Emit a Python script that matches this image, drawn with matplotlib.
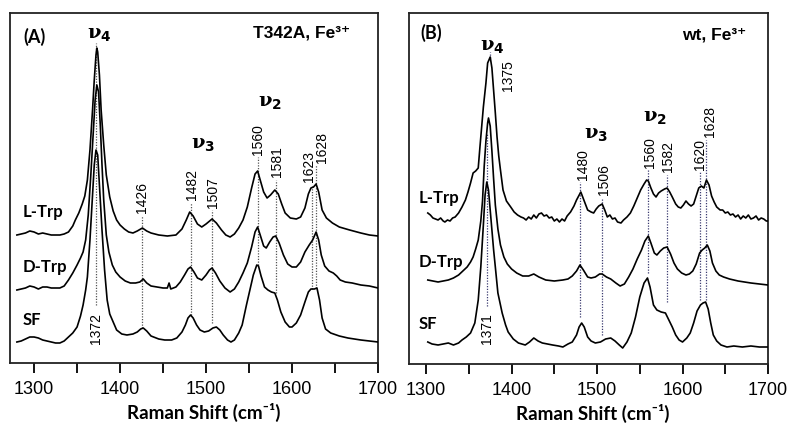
import matplotlib.pyplot as plt
import numpy as np

plt.rcParams['font.family'] = ['Liberation Sans', 'DejaVu Sans']

# ---- panel A : T342A, Fe3+ (intensity above each trace's own baseline) ----
wn_a_ltrp = [1280, 1285, 1290, 1295, 1300, 1305, 1310, 1315, 1320, 1325, 1330, 1335, 1340, 1345, 1348,
             1352, 1356, 1359, 1362, 1365, 1368, 1370, 1372, 1373, 1374, 1376, 1378, 1381, 1384, 1388,
             1392, 1396, 1400, 1405, 1410, 1415, 1420, 1426, 1431, 1436, 1445, 1455, 1465, 1472, 1477,
             1481, 1485, 1490, 1495, 1500, 1507, 1512, 1518, 1523, 1528, 1533, 1538, 1543, 1548, 1553,
             1557, 1560, 1563, 1567, 1571, 1575, 1580, 1584, 1588, 1592, 1598, 1605, 1610, 1615, 1619,
             1622, 1625, 1628, 1631, 1635, 1640, 1647, 1655, 1667, 1680, 1690, 1700]
int_a_ltrp = [0, 1, 2, 4, 3, 1, 2, 1, 0, 0, 0, 1, 3, 9, 15,
              22, 31, 39, 55, 85, 125, 155, 180, 187, 183, 160, 125, 90, 60, 38,
              24, 15, 10, 6, 3, 2, 4, 7, 4, 2, 0, -1, 0, 6, 15,
              23, 19, 11, 8, 11, 16, 12, 5, 0, -2, 1, 7, 15, 28, 47,
              61, 64, 55, 43, 37, 40, 45, 41, 31, 22, 17, 16, 18, 27, 41,
              47, 48, 51, 43, 25, 17, 12, 8, 5, 2, 0, -1]

wn_a_dtrp = [1280, 1285, 1290, 1295, 1300, 1305, 1310, 1315, 1320, 1325, 1330, 1335, 1340, 1345, 1350,
             1354, 1357, 1360, 1363, 1366, 1369, 1371, 1373, 1375, 1377, 1379, 1381, 1384, 1387, 1391,
             1395, 1400, 1406, 1412, 1418, 1423, 1427, 1431, 1436, 1443, 1450, 1455, 1457, 1459, 1465,
             1470, 1475, 1479, 1482, 1486, 1490, 1495, 1500, 1504, 1507, 1511, 1516, 1522, 1528, 1533,
             1538, 1543, 1548, 1553, 1557, 1560, 1563, 1567, 1570, 1574, 1578, 1581, 1585, 1590, 1595,
             1600, 1605, 1610, 1615, 1620, 1624, 1628, 1631, 1634, 1638, 1643, 1648, 1652, 1656, 1662,
             1670, 1680, 1690, 1700]
int_a_dtrp = [-2, -1, 0, 2, 1, -1, 1, 1, 0, 0, 0, 2, 8, 15, 23,
              30, 36, 48, 73, 113, 158, 188, 203, 196, 163, 123, 88, 53, 36, 23,
              16, 11, 7, 5, 5, 6, 9, 5, 2, 1, 0, 0, 5, -1, 1,
              6, 13, 19, 21, 16, 10, 8, 13, 18, 20, 15, 7, 0, -4, -1,
              6, 15, 25, 41, 56, 61, 53, 42, 40, 46, 51, 52, 45, 33, 24,
              21, 21, 26, 36, 43, 48, 56, 48, 33, 22, 17, 15, 12, 8, 6,
              5, 3, 2, 0]

wn_a_sf = [1280, 1285, 1290, 1295, 1300, 1305, 1310, 1315, 1320, 1325, 1330, 1335, 1340, 1345, 1350,
           1354, 1357, 1360, 1362, 1365, 1368, 1370, 1372, 1374, 1376, 1379, 1382, 1385, 1388, 1392,
           1396, 1402, 1408, 1415, 1420, 1424, 1427, 1431, 1436, 1445, 1452, 1460, 1466, 1472, 1476,
           1479, 1482, 1485, 1489, 1493, 1498, 1503, 1508, 1512, 1516, 1520, 1525, 1529, 1533, 1538,
           1542, 1547, 1551, 1555, 1559, 1561, 1564, 1568, 1572, 1576, 1580, 1583, 1587, 1592, 1597,
           1600, 1605, 1610, 1615, 1619, 1622, 1626, 1629, 1632, 1635, 1639, 1645, 1655, 1665, 1680,
           1690, 1700]
int_a_sf = [-1, 0, 2, 4, 4, 3, 1, 0, -1, -2, -2, 0, 4, 8, 14,
            25, 36, 51, 64, 101, 146, 176, 191, 186, 156, 111, 71, 41, 27, 19,
            11, 7, 6, 7, 9, 12, 13, 10, 5, 2, 1, 1, 3, 9, 16,
            23, 26, 23, 16, 11, 9, 10, 13, 14, 11, 6, 1, -1, 1, 8,
            16, 36, 51, 66, 76, 75, 65, 54, 51, 49, 48, 41, 29, 19, 14,
            14, 18, 26, 39, 49, 52, 52, 53, 41, 23, 12, 8, 5, 3, 1,
            0, -1]

# ---- panel B : wt, Fe3+ ----
wn_b_ltrp = [1302, 1305, 1308, 1311, 1314, 1317, 1320, 1322, 1325, 1328, 1331, 1334, 1338, 1342, 1346,
             1349, 1352, 1355, 1358, 1361, 1363, 1367, 1370, 1372, 1375, 1377, 1379, 1381, 1383, 1385,
             1387, 1390, 1394, 1399, 1403, 1407, 1411, 1414, 1417, 1420, 1423, 1426, 1429, 1432, 1435,
             1438, 1441, 1444, 1447, 1450, 1453, 1456, 1459, 1462, 1465, 1469, 1473, 1476, 1481, 1485,
             1489, 1493, 1496, 1499, 1502, 1506, 1509, 1512, 1515, 1518, 1521, 1524, 1528, 1531, 1535,
             1539, 1543, 1547, 1551, 1555, 1558, 1560, 1563, 1566, 1569, 1572, 1575, 1579, 1582, 1585,
             1588, 1592, 1595, 1598, 1601, 1604, 1607, 1610, 1613, 1616, 1619, 1622, 1625, 1628, 1631,
             1634, 1637, 1640, 1644, 1647, 1650, 1653, 1656, 1659, 1662, 1665, 1668, 1671, 1674, 1677,
             1680, 1683, 1686, 1689, 1692, 1695, 1698, 1700]
int_b_ltrp = [5, 3, 0, -1, -2, 0, -3, -4, -2, -3, 0, 1, 5, 11, 18,
              26, 35, 45, 47, 50, 71, 111, 135, 155, 161, 150, 128, 105, 81, 62,
              48, 28, 17, 11, 6, 3, 1, 0, -2, 1, -1, 3, 0, 4, 5,
              2, 3, 0, 1, -3, -1, -4, -1, -3, 2, 6, 12, 18, 26, 17,
              8, 6, 5, 9, 12, 14, 8, 1, 3, -1, 0, -4, -5, -2, 1,
              5, 12, 20, 28, 34, 38, 37, 30, 24, 21, 25, 27, 29, 30, 26,
              21, 14, 11, 10, 13, 17, 14, 12, 14, 22, 30, 32, 30, 38, 33,
              22, 16, 11, 8, 8, 5, 6, 3, 4, 1, 3, -1, 2, 0, 3,
              -1, 0, 2, -2, 0, -1, -3, -3]

wn_b_dtrp = [1302, 1308, 1314, 1320, 1326, 1332, 1338, 1343, 1348, 1352, 1355, 1358, 1361, 1364, 1366,
             1368, 1370, 1372, 1373, 1375, 1377, 1379, 1381, 1384, 1387, 1391, 1395, 1400, 1406, 1413,
             1420, 1426, 1432, 1440, 1450, 1460, 1466, 1471, 1476, 1480, 1484, 1489, 1493, 1498, 1503,
             1506, 1511, 1516, 1522, 1527, 1532, 1537, 1542, 1547, 1552, 1556, 1560, 1563, 1567, 1570,
             1574, 1578, 1582, 1586, 1590, 1594, 1599, 1604, 1608, 1612, 1616, 1620, 1623, 1626, 1629,
             1632, 1635, 1639, 1643, 1648, 1655, 1665, 1680, 1690, 1700]
int_b_dtrp = [1, 0, -1, 0, 1, 3, 6, 10, 14, 19, 24, 32, 41, 60, 80,
              115, 140, 158, 163, 155, 130, 102, 76, 52, 36, 24, 17, 12, 8, 5,
              5, 7, 4, 1, 0, 1, 2, 5, 10, 16, 11, 4, 3, 4, 7,
              7, 4, 2, -2, -5, -3, 4, 12, 22, 31, 40, 45, 38, 28, 26,
              30, 33, 34, 27, 18, 12, 8, 6, 7, 10, 17, 28, 31, 33, 36,
              30, 18, 10, 6, 4, 2, 0, -2, -3, -4]

wn_b_sf = [1302, 1307, 1314, 1320, 1326, 1332, 1338, 1342, 1347, 1352, 1357, 1361, 1364, 1367, 1369,
           1371, 1373, 1376, 1379, 1381, 1384, 1389, 1393, 1396, 1402, 1408, 1416, 1421, 1426, 1431,
           1436, 1442, 1448, 1455, 1460, 1466, 1471, 1476, 1479, 1482, 1485, 1489, 1493, 1498, 1504,
           1510, 1516, 1521, 1526, 1530, 1535, 1540, 1545, 1550, 1555, 1559, 1562, 1566, 1570, 1575,
           1580, 1584, 1588, 1592, 1596, 1600, 1605, 1609, 1613, 1617, 1621, 1624, 1627, 1630, 1633,
           1636, 1640, 1645, 1652, 1660, 1670, 1680, 1690, 1700]
int_b_sf = [3, 1, 0, 1, 2, 0, 2, 5, 8, 12, 22, 45, 78, 120, 150,
            163, 155, 125, 95, 78, 52, 32, 20, 13, 6, 2, 0, 3, 7, 4,
            2, 1, 0, -1, -2, 1, 3, 10, 18, 22, 18, 8, 4, 2, 3,
            6, 7, 4, 0, -3, 3, 12, 28, 48, 62, 67, 58, 40, 35, 33,
            32, 25, 18, 10, 5, 3, 7, 12, 22, 34, 40, 42, 43, 36, 22,
            10, 4, 0, -2, -1, -2, -1, -2, -2]

samples = ['L-Trp', 'D-Trp', 'SF']
offsets_a = [128, 75, 22]
offsets_b = [146, 83, 19]

peaks_a = [1372, 1426, 1482, 1507, 1560, 1581, 1623, 1628]
peaks_b = [1375, 1371, 1480, 1506, 1560, 1582, 1620, 1628]

# label x, label y, line bottom, line top, label below line?
marks_a = [(1372, 50, 58, 320, True), (1426, 150, 35, 147, False), (1484, 163, 48, 160, False),
           (1508, 155, 40, 153, False), (1560, 208, 98, 206, False), (1583, 186, 70, 183, False),
           (1620, 181, 74, 178, False), (1635, 200, 75, 198, False)]
marks_b = [(1396, 304, 306, 312, True), (1371, 51, 58, 231, True), (1483, 184, 47, 182, False),
           (1508, 169, 29, 166, False), (1562, 196, 91, 194, False), (1583, 192, 62, 189, False),
           (1620, 194, 64, 192, False), (1632, 227, 64, 224, False)]

# mode labels: (subscript, x, y)
modes_a = [('4', 1376, 328), ('3', 1497, 218), ('2', 1575, 260)]
modes_b = [('4', 1378, 317), ('3', 1499, 229), ('2', 1568, 246)]

W, H = 791, 424
fig = plt.figure(figsize=(W / 100, H / 100), dpi=100)


def px_axes(left, top, right, bottom):
    return fig.add_axes([left / W, 1 - bottom / H, (right - left) / W, (bottom - top) / H])


ax_a = px_axes(10, 13, 378, 363)
ax_b = px_axes(409, 13, 768, 364)

panels = [
    (ax_a, [(wn_a_ltrp, int_a_ltrp), (wn_a_dtrp, int_a_dtrp), (wn_a_sf, int_a_sf)], offsets_a,
     peaks_a, marks_a, modes_a, (1272, 1700), 350, '#555555'),
    (ax_b, [(wn_b_ltrp, int_b_ltrp), (wn_b_dtrp, int_b_dtrp), (wn_b_sf, int_b_sf)], offsets_b,
     peaks_b, marks_b, modes_b, (1280, 1700), 351, '#3b3b70'),
]

bold = dict(family=['Lato', 'DejaVu Sans'], fontweight='bold')

for ax, traces, offs, peaks, marks, modes, xl, ytop, dcol in panels:
    for (x, y), off in zip(traces, offs):
        ax.plot(x, np.array(y) + off, color='black', lw=1.2, zorder=3)
    for p, (lx, ly, y0, y1, below) in zip(peaks, marks):
        ax.plot([p, p], [y0, y1], color=dcol, lw=0.9, ls=(0, (1, 1.2)), zorder=2)
        ax.text(lx, ly, str(p), rotation=90, ha='center', va='top' if below else 'bottom',
                fontsize=10)
    for sub, mx, my in modes:
        ax.text(mx, my, 'ν$_{\\mathbf{' + sub + '}}$', ha='center', va='center',
                fontsize=14, family=['DejaVu Serif'], fontweight='bold')
    ax.set_xlim(*xl)
    ax.set_ylim(0, ytop)
    ax.set_yticks([])
    ticks = np.arange(1300, 1701, 50)
    ax.set_xticks(ticks)
    ax.set_xticklabels([str(t) if t % 100 == 0 else '' for t in ticks], fontsize=13)
    ax.tick_params(axis='x', direction='out', length=7, width=1.3, pad=6)
    for s in ax.spines.values():
        s.set_linewidth(1.3)
        s.set_color('#222222')

# panel A texts
ax_a.text(0.035, 0.931, '(A)', transform=ax_a.transAxes, fontsize=13, va='center', **bold)
ax_a.text(0.924, 0.943, 'T342A, Fe³⁺', transform=ax_a.transAxes, fontsize=12.5, ha='right',
          va='center', fontweight='bold')
for name, yy in zip(samples, [0.431, 0.274, 0.123]):
    ax_a.text(0.033, yy, name, transform=ax_a.transAxes, fontsize=12, va='center', **bold)
ax_a.text(0.527, -0.14, 'Raman Shift (cm⁻¹)', transform=ax_a.transAxes, ha='center',
          va='center', fontsize=13.5, **bold)

# panel B texts
ax_b.text(0.033, 0.943, '(B)', transform=ax_b.transAxes, fontsize=13, va='center', **bold)
ax_b.text(0.94, 0.937, 'wt, Fe³⁺', transform=ax_b.transAxes, fontsize=12.5, ha='right',
          va='center', fontweight='bold')
for name, yy in zip(samples, [0.473, 0.291, 0.114]):
    ax_b.text(0.028, yy, name, transform=ax_b.transAxes, fontsize=12, va='center', **bold)
ax_b.text(0.511, -0.14, 'Raman Shift (cm⁻¹)', transform=ax_b.transAxes, ha='center',
          va='center', fontsize=13.5, **bold)

fig.savefig('out.png', dpi=100)
